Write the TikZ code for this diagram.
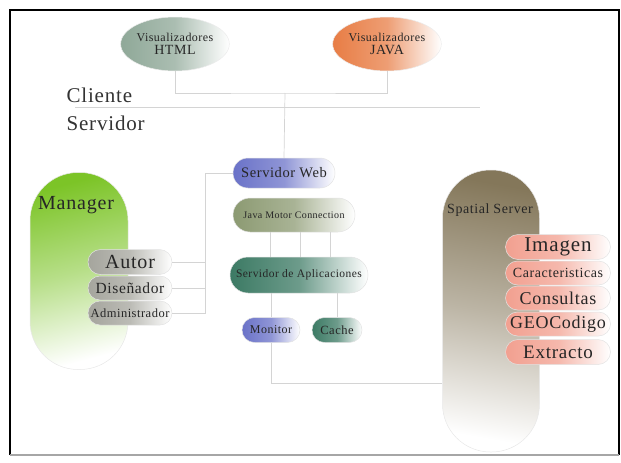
\documentclass[tikz,border=0pt]{standalone}
\usepackage{fontspec}
\setmainfont{Liberation Serif}[LetterSpace=4]
\usetikzlibrary{shapes.misc,shapes.geometric}
\definecolor{htmlc}{HTML}{8FA898}
\definecolor{javac}{HTML}{E87D45}
\definecolor{webc}{HTML}{6A72C8}
\definecolor{jmc}{HTML}{8C9A72}
\definecolor{aplc}{HTML}{3C7A64}
\definecolor{managc}{HTML}{7CC427}
\definecolor{grayc}{HTML}{A5A59D}
\definecolor{pinkc}{HTML}{F2A090}
\definecolor{spatc}{HTML}{84775A}
\definecolor{linec}{HTML}{D4D4D4}
\newcommand{\fs}[1]{\fontsize{#1}{#1}\selectfont}
\tikzset{
  conn/.style={draw=linec, line width=0.7pt},
  pill/.style={rounded rectangle, draw=gray!22, line width=0.5pt, inner sep=0pt, text=black!85},
  ell/.style={ellipse, draw=gray!15, line width=0.5pt, inner sep=0pt, minimum width=106pt, minimum height=54pt, align=center, text=black!85},
  grad/.style={left color=#1, right color=white, middle color=#1!75},
}
\begin{document}
\begin{tikzpicture}[x=1pt,y=-1pt]
\useasboundingbox (0,0) rectangle (621,463);
% frame
\draw[line width=1.4pt] (10,455) -- (10,10) -- (619,10) -- (619,455);
\draw[line width=1.6pt, gray!70] (10,455) -- (619,455);

% client viewers
\node[ell, grad=htmlc] (html) at (175,44) {\fs{12}Visualizadores\\[1pt]\fs{14}HTML};
\node[ell, grad=javac] (java) at (387,44) {\fs{12}Visualizadores\\[1pt]\fs{14}JAVA};

\coordinate (cs) at (285,93);
\coordinate (sepL) at (75,107);
\coordinate (sepR) at (480,107);

\node[anchor=west, font=\fs{21}, text=black!80] (cli) at (63,95) {Cliente};
\node[anchor=west, font=\fs{21}, text=black!80] (srv) at (63,123) {Servidor};

% server side nodes
\node[pill, grad=webc, minimum width=102pt, minimum height=30pt, font=\fs{14.5}] (web) at (284,173) {Servidor Web};
\node[pill, grad=jmc, minimum width=122pt, minimum height=34pt, font=\fs{10}] (jm) at (294,215) {Java Motor Connection};
\node[pill, grad=aplc, minimum width=138pt, minimum height=36pt, font=\fs{11.5}] (apl) at (299,275) {Servidor de Aplicaciones};
\node[pill, grad=webc, minimum width=58pt, minimum height=25pt, font=\fs{12}] (mon) at (271,330) {Monitor};
\node[pill, grad=aplc, minimum width=50pt, minimum height=25pt, font=\fs{12.5}] (cache) at (337,330) {Cache};

% manager
\node[rectangle, rounded corners=48pt, draw=gray!18, line width=0.5pt, minimum width=98pt, minimum height=197pt,
      top color=managc, bottom color=white, middle color=managc!55, shading angle=15] (mgr) at (79,271) {};
\node[font=\fs{20}, text=black!85] (mgrt) at (76,205) {Manager};
\node[pill, grad=grayc, minimum width=84pt, minimum height=25pt, font=\fs{20}] (autor) at (130,262) {Autor};
\node[pill, grad=grayc, minimum width=84pt, minimum height=24pt, font=\fs{15.5}] (dis) at (130,288) {Diseñador};
\node[pill, grad=grayc, minimum width=84pt, minimum height=24pt, font=\fs{12.5}] (adm) at (130,313) {Administrador};

% spatial server
\node[rectangle, rounded corners=48pt, draw=gray!18, line width=0.5pt, minimum width=97pt, minimum height=282pt,
      top color=spatc, bottom color=white, middle color=spatc!55, shading angle=-10] (spat) at (491,311) {};
\node[font=\fs{14}, text=black!85] (spatt) at (490,210) {Spatial Server};
\node[pill, grad=pinkc, minimum width=105pt, minimum height=25pt, font=\fs{21}] (img) at (558,247) {Imagen};
\node[pill, grad=pinkc, minimum width=105pt, minimum height=24pt, font=\fs{14}] (car) at (558,273) {Caracteristicas};
\node[pill, grad=pinkc, minimum width=105pt, minimum height=24pt, font=\fs{18}] (con) at (558,298) {Consultas};
\node[pill, grad=pinkc, minimum width=105pt, minimum height=24pt, font=\fs{18}] (geo) at (558,324) {GEOCodigo};
\node[pill, grad=pinkc, minimum width=105pt, minimum height=25pt, font=\fs{19}] (ext) at (558,352) {Extracto};

% connectors
\draw[conn] (html.south) |- (cs) -| (java.south);
\draw[conn] (sepL) -- (sepR);
\draw[conn] (cs) -- (web.north);

\coordinate (busT) at (205,173);
\coordinate (busB) at (205,313);
\draw[conn] (web.west) -- (busT) -- (busB) -- (adm.east);
\draw[conn] (autor.east) -- (autor.east -| busT);
\draw[conn] (dis.east) -- (dis.east -| busT);

\foreach \dx in {-24,6,36}{
  \draw[conn] ([xshift=\dx pt]jm.south) -- ([xshift=\dx pt]jm.south |- apl.north);
}
\draw[conn] (apl.south -| mon.north) -- (mon.north);
\draw[conn] (apl.south -| cache.north) -- (cache.north);
\coordinate (lvl) at (0,383);
\draw[conn] (mon.south) |- (spat.west |- lvl);
\end{tikzpicture}
\end{document}
